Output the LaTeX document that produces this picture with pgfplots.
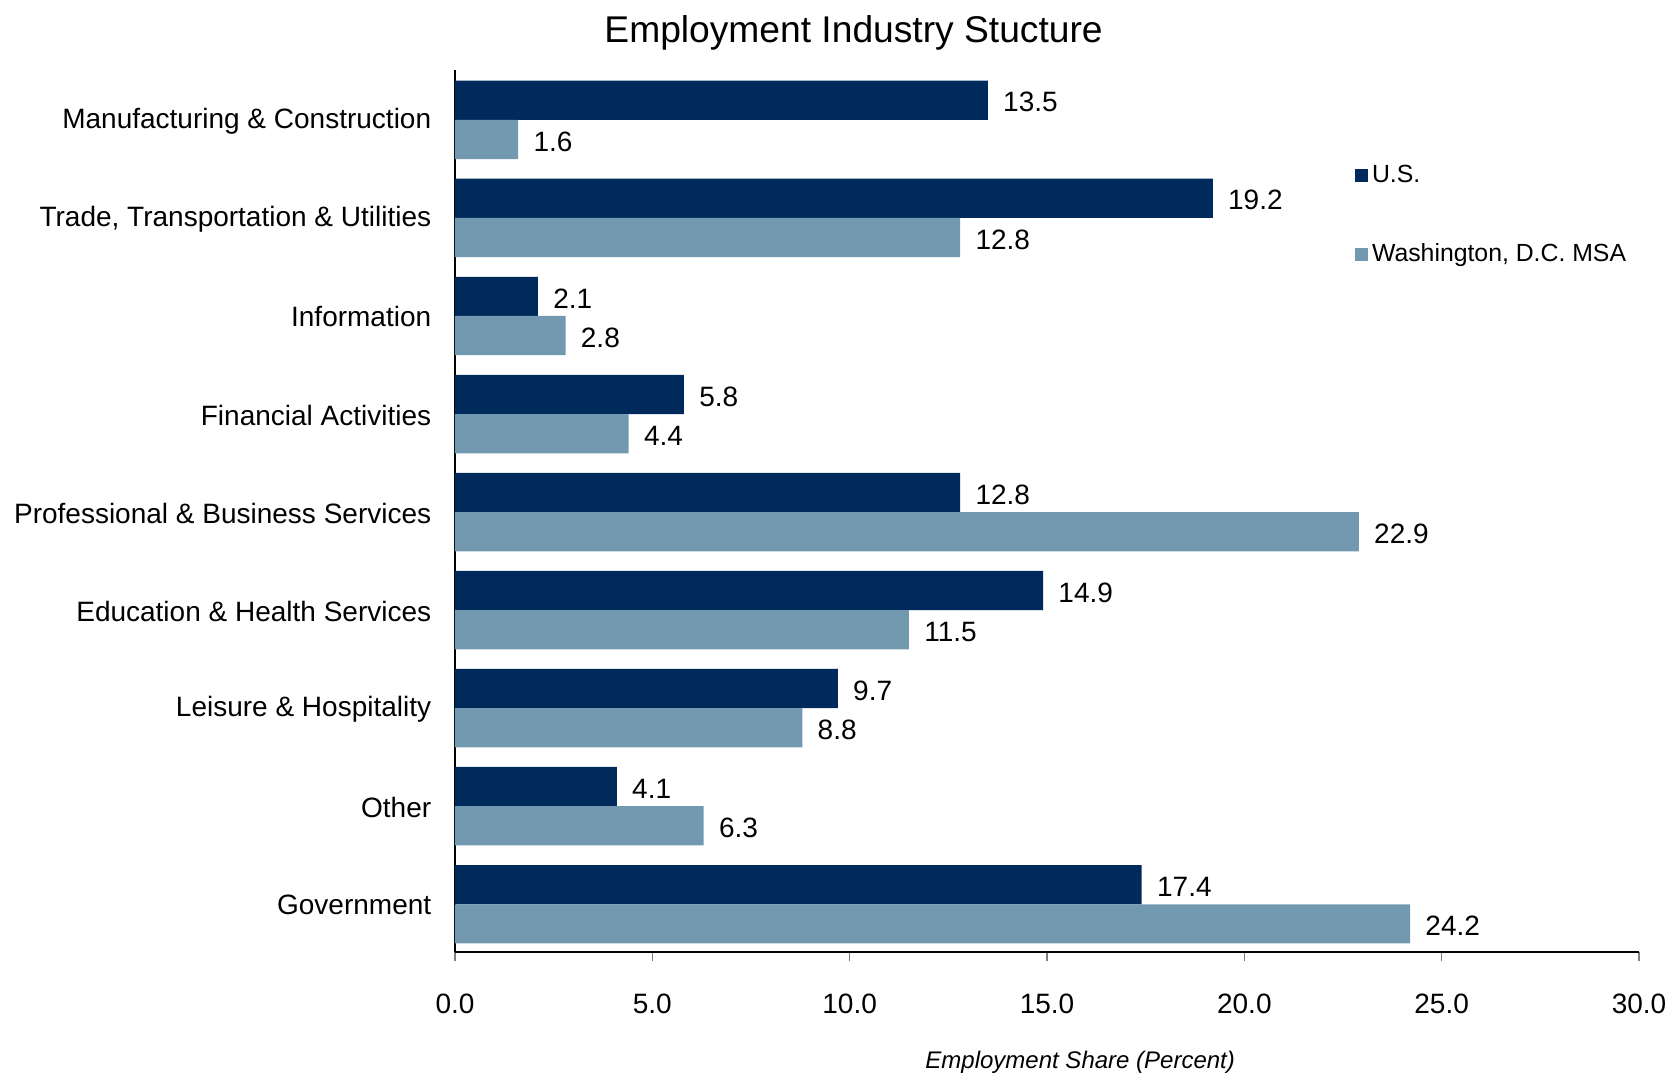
\documentclass[border=0pt]{standalone}
\usepackage{fontspec}
\setmainfont{Liberation Sans}
\usepackage{pgfplots}
\pgfplotsset{compat=1.18}
\definecolor{usblue}{HTML}{002A5C}
\definecolor{dcblue}{HTML}{7399B0}

\begin{document}
\begin{tikzpicture}
\useasboundingbox (-227.5pt,-60.5pt) rectangle (608pt,476pt);
\begin{axis}[
  at={(0,0)}, anchor=south west,
  scale only axis, width=592pt, height=441pt,
  xbar, bar width=0.4,
  xmin=0, xmax=30, ymin=-0.487, ymax=8.509,
  axis x line*=bottom, axis y line*=left,
  axis line style={-, black, line width=0.6pt},
  xtick={0,5,10,15,20,25,30},
  xtick align=outside, major tick length=4.5pt,
  xtick style={gray, line width=0.6pt},
  ytick={0,1,2,3,4,5,6,7,8},
  ytick style={draw=none},
  yticklabels={Government, Other, Leisure \& Hospitality, Education \& Health Services, Professional \& Business Services, Financial Activities, Information, {Trade, Transportation \& Utilities}, Manufacturing \& Construction},
  /pgf/number format/assume math mode=true,
  xticklabel style={font=\fontsize{14}{16}\selectfont, anchor=base, inner sep=0pt, yshift=-26pt,
    /pgf/number format/.cd, fixed, fixed zerofill, precision=1},
  yticklabel style={font=\fontsize{14}{16}\selectfont, anchor=east, inner sep=0pt, xshift=-7.2pt, yshift=-0.5pt},
  nodes near coords,
  every node near coord/.append style={font=\fontsize{14}{16}\selectfont, anchor=west, inner sep=0pt, xshift=7.5pt, yshift=-1pt, black,
    /pgf/number format/.cd, fixed, fixed zerofill, precision=1},
  legend style={draw=none, fill=none, at={(0.760,0.897)}, anchor=north west,
    font=\fontsize{12.4}{14}\selectfont, row sep=25.1pt, inner sep=0pt, cells={anchor=west}},
  legend image code/.code={\fill[#1] (0pt,-3.2pt) rectangle (6.4pt,3.2pt);},
]
\addplot[fill=usblue, draw=none, bar shift=0.2] coordinates {
 (17.4,0) (4.1,1) (9.7,2) (14.9,3) (12.8,4) (5.8,5) (2.1,6) (19.2,7) (13.5,8)};
\addlegendentry{U.S.}
\addplot[fill=dcblue, draw=none, bar shift=-0.2] coordinates {
 (24.2,0) (6.3,1) (8.8,2) (11.5,3) (22.9,4) (4.4,5) (2.8,6) (12.8,7) (1.6,8)};
\addlegendentry{Washington, D.C. MSA}
\end{axis}
\node[anchor=base, font=\fontsize{18.6}{22}\selectfont] at (199.3pt,454.7pt) {Employment Industry Stucture};
\node[anchor=base, font=\fontsize{12}{14}\selectfont\itshape] at (312.6pt,-58pt) {Employment Share (Percent)};
\end{tikzpicture}
\end{document}
